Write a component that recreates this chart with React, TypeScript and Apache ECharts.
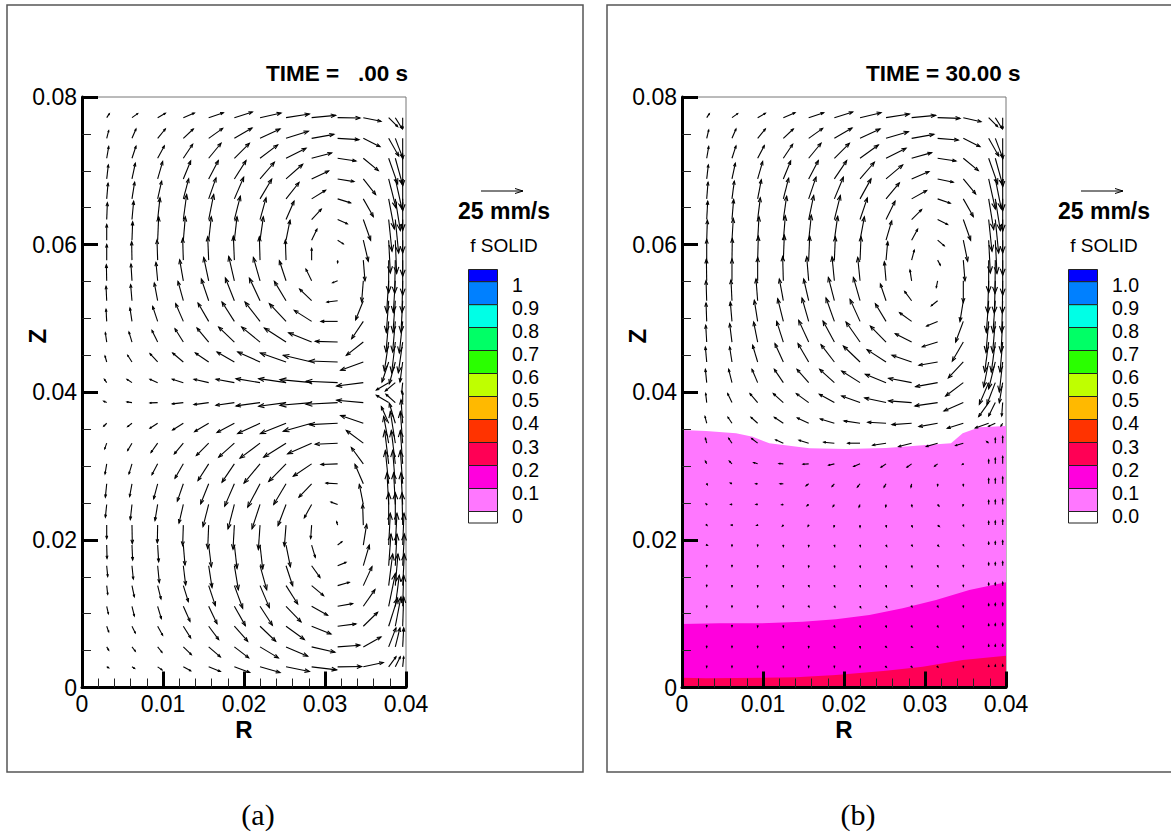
import React, { useEffect, useRef } from "react";
import * as echarts from "echarts";

const FONT = '"Liberation Sans", Arial, sans-serif';

// arrow tails, metres
const columnR = [0.00305, 0.00617, 0.00934, 0.01251, 0.01564, 0.01881, 0.02198, 0.02519, 0.02835, 0.03156, 0.03473, 0.03786, 0.03868, 0.03959];
const rowZ = [0.0772, 0.0744, 0.0717, 0.0689, 0.0662, 0.0634, 0.0606, 0.0579, 0.0551, 0.0524, 0.0496, 0.0468, 0.0441, 0.0413, 0.0386, 0.0358, 0.0331, 0.0303, 0.0276, 0.0248, 0.022, 0.0193, 0.0165, 0.0138, 0.011, 0.0083, 0.0055, 0.0028];

// velocity pairs (u, v) per row, in units of 0.2 mm/s, one row of 14 columns per line
const leftField = [
  [8,12, 17,12, 23,13, 33,14, 44,15, 54,17, 63,14, 70,11, 72,7, 67,-1, 53,-11, 27,-27, 20,-32, 0,-33],
  [6,23, 12,28, 23,28, 30,28, 42,30, 53,31, 60,28, 67,21, 67,12, 64,-4, 50,-25, 30,-53, 22,-58, 0,-62],
  [6,35, 12,36, 20,37, 28,42, 37,45, 45,45, 53,40, 60,30, 60,16, 55,-8, 45,-37, 27,-77, 22,-80, 0,-82],
  [5,42, 10,47, 15,52, 22,54, 29,55, 35,55, 43,50, 50,44, 51,24, 49,-8, 37,-47, 22,-87, 20,-90, 0,-95],
  [4,47, 8,50, 12,53, 16,60, 22,63, 28,65, 35,59, 39,49, 42,26, 39,-12, 30,-53, 17,-90, 15,-95, 0,-95],
  [2,50, 5,55, 7,65, 10,75, 15,75, 18,70, 18,65, 24,55, 29,31, 29,-13, 22,-62, 10,-95, 10,-100, 0,-100],
  [0,47, 2,55, 3,70, 6,70, 8,70, 8,70, 10,70, 12,60, 16,33, 17,-11, 15,-63, 5,-98, 4,-100, 0,-108],
  [0,47, -1,55, -2,60, -2,65, -3,70, -3,72, -2,70, -2,60, 0,35, 0,-8, 5,-62, 0,-98, -2,-100, 0,-105],
  [-1,48, -3,50, -5,55, -11,63, -15,70, -17,73, -20,70, -20,60, -17,35, -15,-6, -5,-63, -6,-95, -6,-95, -2,-95],
  [-2,43, -4,48, -10,53, -16,58, -22,65, -27,68, -32,68, -35,58, -36,35, -32,-4, -23,-57, -7,-95, -7,-95, -5,-95],
  [-2,36, -6,40, -15,45, -23,53, -32,55, -37,58, -45,58, -50,53, -52,33, -50,0, -35,-52, -8,-92, -8,-92, -10,-95],
  [-4,28, -9,30, -17,35, -25,40, -35,42, -47,45, -55,45, -65,42, -69,28, -67,2, -51,-40, -13,-87, -11,-92, -13,-92],
  [-5,18, -13,20, -23,25, -32,27, -40,27, -52,30, -67,30, -77,27, -85,20, -85,3, -68,-25, -20,-60, -18,-65, -8,-60],
  [-7,10, -15,10, -23,10, -33,10, -44,10, -55,10, -72,12, -82,12, -95,9, -95,4, -80,-10, -37,-22, -30,-25, -3,-30],
  [-9,4, -15,2, -23,-1, -33,-4, -44,-6, -55,-8, -72,-10, -82,-11, -95,-8, -95,-5, -80,7, -37,22, -28,25, 0,30],
  [-9,-9, -13,-10, -23,-15, -32,-20, -42,-25, -52,-28, -67,-31, -77,-31, -85,-24, -85,-4, -68,23, -22,50, -18,60, -5,70],
  [-6,-17, -13,-22, -20,-28, -27,-32, -37,-37, -47,-42, -60,-45, -67,-42, -72,-32, -67,-3, -51,38, -15,80, -15,95, -7,95],
  [-5,-30, -9,-30, -17,-32, -25,-43, -32,-50, -37,-55, -48,-58, -52,-53, -55,-37, -50,-2, -36,49, -12,100, -12,100, -7,100],
  [-4,-40, -7,-38, -12,-45, -18,-52, -24,-60, -29,-67, -37,-70, -37,-62, -38,-40, -35,2, -25,58, -10,100, -8,100, -7,100],
  [-4,-38, -5,-45, -8,-48, -13,-56, -17,-66, -19,-73, -24,-73, -24,-63, -22,-40, -20,7, -12,60, -5,95, -5,95, -5,95],
  [0,-40, 1,-55, -1,-53, -2,-61, -3,-70, -4,-72, -5,-73, -5,-63, -3,-40, -3,10, -2,62, 0,97, 0,97, -2,97],
  [1,-40, 2,-45, 3,-50, 5,-60, 8,-65, 8,-70, 8,-72, 13,-65, 11,-37, 13,10, 10,62, 5,95, 5,95, 4,95],
  [3,-32, 4,-40, 5,-50, 7,-58, 10,-65, 12,-72, 20,-72, 20,-60, 25,-35, 25,10, 18,62, 7,95, 5,95, 5,95],
  [3,-26, 7,-33, 10,-40, 15,-48, 20,-60, 25,-68, 28,-66, 35,-55, 36,-30, 35,10, 26,57, 12,95, 8,95, 5,95],
  [5,-22, 7,-29, 11,-37, 20,-45, 25,-52, 33,-58, 37,-57, 45,-47, 48,-27, 45,8, 35,50, 20,98, 12,93, 3,93],
  [6,-17, 10,-20, 15,-27, 22,-35, 30,-40, 40,-45, 47,-45, 55,-40, 58,-23, 55,7, 43,42, 27,85, 17,88, 3,88],
  [6,-10, 10,-13, 13,-16, 24,-23, 35,-30, 43,-33, 55,-33, 65,-28, 70,-16, 67,5, 53,30, 22,57, 14,57, 3,57],
  [6,-3, 8,-5, 13,-9, 22,-12, 35,-14, 46,-17, 60,-17, 70,-14, 75,-9, 72,1, 60,13, 22,30, 15,30, 3,30],
];

const rightField = [
  [8,12, 17,12, 23,13, 35,15, 45,15, 55,17, 63,15, 70,11, 72,7, 67,-2, 53,-12, 27,-27, 20,-32, 0,-33],
  [6,25, 12,28, 23,28, 30,28, 42,30, 53,31, 60,28, 67,20, 67,12, 62,-5, 50,-25, 30,-53, 22,-58, 0,-62],
  [6,35, 12,37, 20,38, 28,42, 37,45, 45,45, 55,40, 60,30, 60,17, 55,-8, 45,-37, 27,-77, 22,-80, 0,-85],
  [5,42, 10,47, 15,52, 22,54, 29,55, 37,55, 43,50, 50,42, 52,22, 47,-10, 37,-45, 20,-90, 18,-90, 0,-95],
  [4,50, 7,53, 11,57, 16,62, 22,65, 27,65, 33,60, 40,48, 45,25, 38,-13, 30,-53, 15,-92, 15,-95, 0,-97],
  [3,55, 5,60, 8,65, 10,70, 15,72, 18,72, 22,65, 27,55, 30,30, 30,-15, 22,-62, 10,-95, 10,-100, 0,-100],
  [2,60, 4,65, 4,70, 6,73, 8,75, 10,72, 13,70, 17,58, 18,33, 20,-17, 13,-63, 5,-98, 5,-100, 0,-105],
  [0,62, 1,65, 2,72, 3,75, 3,72, 3,70, 3,70, 5,55, 8,30, 8,-15, 5,-62, 0,-98, -1,-100, 0,-105],
  [-1,65, 0,65, 0,70, -2,73, -6,72, -7,72, -7,70, -5,57, -5,32, -4,-20, 0,-65, -3,-97, -3,-97, -1,-97],
  [-2,60, -3,62, -5,65, -12,65, -15,65, -18,70, -20,70, -17,50, -21,28, -19,-15, -10,-62, -7,-95, -7,-95, -3,-95],
  [-2,55, -5,58, -10,63, -17,68, -20,70, -25,70, -30,66, -32,53, -36,26, -33,-14, -23,-62, -8,-93, -8,-93, -5,-93],
  [-3,50, -7,55, -12,60, -20,62, -30,65, -34,63, -42,60, -47,48, -49,25, -46,-14, -33,-57, -12,-90, -12,-90, -8,-90],
  [-4,45, -7,45, -15,50, -25,55, -32,55, -40,52, -50,48, -57,37, -59,20, -56,-10, -45,-48, -15,-75, -20,-80, -10,-90],
  [-4,40, -10,40, -17,40, -27,40, -35,40, -44,40, -55,35, -62,25, -69,13, -66,-12, -53,-40, -28,-65, -25,-65, -10,-60],
  [-3,27, -13,27, -23,27, -30,27, -37,27, -45,25, -55,20, -64,14, -69,5, -68,-10, -58,-25, -30,-42, -20,-40, -3,-40],
  [-5,20, -12,18, -20,18, -27,18, -34,16, -42,13, -48,7, -55,3, -59,-4, -56,-10, -48,-15, -40,-14, -20,-9, -5,-8],
  [-4,15, -10,15, -18,14, -23,10, -29,9, -32,3, -37,0, -40,-6, -39,-10, -34,-10, -23,-7, -6,5, 0,15, 0,20],
  [-4,8, -8,8, -12,4, -13,1, -17,-1, -17,-4, -19,-8, -15,-10, -14,-10, -9,-7, -3,-2, 0,12, 0,17, 0,22],
  [2,-3, -5,2, -6,0, -10,0, -8,-6, -7,-8, -8,-10, -6,-10, -2,-10, 0,-6, 0,-6, 0,15, 0,15, 0,20],
  [-2,2, -4,0, -5,0, -5,-1, -5,-4, -4,-6, -3,-8, -1,-7, 1,-6, 4,-5, -1,-4, 0,12, 0,13, 0,16],
  [1,-1, -2,0, -3,-1, -3,-3, -2,-3, -1,-5, 0,-6, 1,-5, 2,-5, 5,-4, 1,-3, 0,11, 0,12, 0,15],
  [2,-1, 0,-3, 0,-3, 0,-4, 0,-4, 1,-4, 1,-4, 2,-4, 2,-3, 3,-3, 1,-2, 0,8, 0,10, 0,13],
  [0,-2, 0,-2, 0,-3, 0,-3, 0,-4, 1,-4, 1,-4, 1,-4, 1,-4, 1,-3, 0,-2, 0,8, 0,9, 0,12],
  [0,-2, 0,-3, 0,-3, 0,-3, 1,-3, 1,-3, 1,-3, 1,-3, 1,-3, 1,-3, 0,-2, 0,7, 0,8, 0,10],
  [0,-2, 0,-2, 0,-2, 0,-2, 1,-2, 2,-3, 2,-4, 2,-3, 1,-2, 1,-2, 0,-2, 0,7, 0,8, 0,10],
  [0,-1, 0,-1, 0,-2, 0,-2, 1,-2, 1,-2, 1,-2, 1,-2, 1,-2, 1,-2, 0,-2, 0,6, 0,7, 0,9],
  [0,-1, 0,-1, 0,-1, 0,-2, 0,-2, 1,-2, 1,-2, 1,-1, 2,-1, 1,-1, 0,-1, 0,6, 0,6, 0,7],
  [0,-1, 0,-1, 0,-1, 0,-1, 0,-1, 0,-1, 0,-1, 1,-1, 1,-1, 1,-1, 0,-1, 0,4, 0,5, 0,6],
];

// contour boundaries on panel (b): [R, Z]
const solid01 = [[0,0.03489],[0.00296,0.03475],[0.00667,0.03444],[0.00872,0.03398],[0.01078,0.03308],[0.01572,0.0324],[0.02025,0.03231],[0.02518,0.03245],[0.02971,0.03281],[0.03321,0.03308],[0.03465,0.03444],[0.03671,0.03525],[0.04,0.03543]];
const solid02 = [[0,0.0086],[0.00461,0.00869],[0.00955,0.00869],[0.0149,0.00892],[0.01901,0.00924],[0.02313,0.00982],[0.02724,0.01073],[0.03136,0.01185],[0.03547,0.01321],[0.04,0.01425]];
const solid03 = [[0,0.00133],[0.00296,0.00124],[0.01407,0.00138],[0.01901,0.00169],[0.02518,0.00228],[0.02971,0.00282],[0.03465,0.00373],[0.04,0.00431]];

const legendColors = ["#0000ff", "#0080ff", "#00ffe6", "#00ff66", "#2aff00", "#bfff00", "#ffb900", "#ff3300", "#ff0055", "#ff00dd", "#ff77ff", "#ffffff"];
const legendBreaks = [269.5, 281.7, 304.7, 327.5, 350.5, 373.5, 396.5, 419.5, 442.5, 465.5, 488.5, 511.5, 523];
const leftLegendLabels = ["1", "0.9", "0.8", "0.7", "0.6", "0.5", "0.4", "0.3", "0.2", "0.1", "0"];
const rightLegendLabels = ["1.0", "0.9", "0.8", "0.7", "0.6", "0.5", "0.4", "0.3", "0.2", "0.1", "0.0"];

const leftTitle = "TIME =   .00 s";
const rightTitle = "TIME = 30.00 s";
const scaleLabel = "25 mm/s";
const legendTitle = "f SOLID";

function fieldData(field: number[][]) {
  const out: number[][] = [];
  field.forEach((row, i) => {
    columnR.forEach((r, j) => out.push([r, rowZ[i], row[2 * j], row[2 * j + 1]]));
  });
  return out;
}

function renderArrow(_: any, api: any) {
  const p = api.coord([api.value(0), api.value(1)]);
  const dx = api.value(2) / 3;
  const dy = -api.value(3) / 3;
  const len = Math.hypot(dx, dy) || 1;
  const tip = [p[0] + dx, p[1] + dy];
  const ux = dx / len;
  const uy = dy / len;
  const h = Math.max(1.5, Math.min(6.5, len * 0.2));
  const w = h * 0.38;
  const style = { stroke: "#000", lineWidth: 1.1, fill: "none" };
  return {
    type: "group",
    children: [
      { type: "line", shape: { x1: p[0], y1: p[1], x2: tip[0], y2: tip[1] }, style },
      {
        type: "polyline",
        shape: {
          points: [
            [tip[0] - ux * h - uy * w, tip[1] - uy * h + ux * w],
            tip,
            [tip[0] - ux * h + uy * w, tip[1] - uy * h - ux * w],
          ],
        },
        style,
      },
    ],
  };
}

function panelGraphics(dx: number, title: string, labels: string[], frameWidth: number) {
  const els: any[] = [
    { type: "rect", z: 0, shape: { x: 7 + (dx ? 600 : 0), y: 5, width: frameWidth, height: 767 }, style: { fill: "none", stroke: "#555", lineWidth: 1.5 } },
    { type: "text", x: 266 + dx, y: 73, style: { text: title, font: `bold 22.5px ${FONT}`, fill: "#000", textAlign: "left", textVerticalAlign: "middle" } },
    { type: "line", shape: { x1: 481 + dx, y1: 191, x2: 523 + dx, y2: 191 }, style: { stroke: "#000", lineWidth: 1 } },
    { type: "polyline", shape: { points: [[515 + dx, 188.5], [523 + dx, 191], [515 + dx, 193.5]] }, style: { stroke: "#000", lineWidth: 1, fill: "none" } },
    { type: "text", x: 504 + dx, y: 211, style: { text: scaleLabel, font: `bold 23px ${FONT}`, fill: "#000", textAlign: "center", textVerticalAlign: "middle" } },
    { type: "text", x: 504 + dx, y: 245, style: { text: legendTitle, font: `19px ${FONT}`, fill: "#000", textAlign: "center", textVerticalAlign: "middle" } },
  ];
  legendColors.forEach((c, i) => {
    els.push({
      type: "rect",
      shape: { x: 468.5 + dx, y: legendBreaks[i], width: 29, height: legendBreaks[i + 1] - legendBreaks[i] },
      style: { fill: c, stroke: "#222", lineWidth: 1 },
    });
  });
  labels.forEach((t, i) => {
    els.push({
      type: "text",
      x: 512 + dx,
      y: 284.5 + i * 23.15,
      style: { text: t, font: `19.5px ${FONT}`, fill: "#000", textAlign: "left", textVerticalAlign: "middle" },
    });
  });
  return els;
}

export default function App() {
  const ref = useRef<HTMLDivElement>(null);
  useEffect(() => {
    const chart = echarts.init(ref.current!, null, { renderer: "svg" });
    const grids = [82, 682];
    const tickLabel = (v: number) => (v === 0 ? "0" : v.toFixed(2));
    const axisBase = {
      type: "value",
      min: 0,
      z: 5,
      splitLine: { show: false },
      axisLine: { show: true, onZero: false, lineStyle: { color: "#000", width: 3 } },
      axisTick: { show: true, inside: true, length: 16, lineStyle: { color: "#000", width: 3 } },
      nameLocation: "middle",
      nameMoveOverlap: false,
    };
    const nameStyle = { fontFamily: FONT, fontWeight: "bold", fontSize: 24, color: "#000" };
    const labelBase = { fontFamily: FONT, fontSize: 23, color: "#000", formatter: tickLabel, showMinLabel: true, showMaxLabel: true };
    chart.setOption({
      animation: false,
      grid: grids.map((left) => ({
        left,
        top: 97,
        width: 324,
        height: 590.5,
        show: true,
        borderColor: "#777",
        borderWidth: 1,
        backgroundColor: "transparent",
      })),
      xAxis: grids.map((_, i) => ({
        ...axisBase,
        gridIndex: i,
        max: 0.04,
        interval: 0.01,
        name: "R",
        nameGap: 30,
        nameTextStyle: nameStyle,
        minorTick: { show: true, splitNumber: 5, length: 9, lineStyle: { color: "#222", width: 1 } },
        axisLabel: { ...labelBase, margin: 5 },
      })),
      yAxis: grids.map((_, i) => ({
        ...axisBase,
        gridIndex: i,
        max: 0.08,
        interval: 0.02,
        name: "Z",
        nameGap: 33,
        nameRotate: 90,
        nameTextStyle: { ...nameStyle, padding: [0, 0, 0, 112] },
        minorTick: { show: true, splitNumber: 4, length: 9, lineStyle: { color: "#222", width: 1 } },
        axisLabel: { ...labelBase, margin: 5 },
      })),
      series: [
        ...[
          { data: solid01, color: "#ff77ff" },
          { data: solid02, color: "#ff00dd" },
          { data: solid03, color: "#ff0055" },
        ].map((s) => ({
          type: "line",
          xAxisIndex: 1,
          yAxisIndex: 1,
          data: s.data,
          showSymbol: false,
          symbol: "none",
          silent: true,
          z: 2,
          lineStyle: { width: 0 },
          itemStyle: { color: s.color },
          areaStyle: { color: s.color, opacity: 1 },
        })),
        {
          type: "custom",
          xAxisIndex: 0,
          yAxisIndex: 0,
          data: fieldData(leftField),
          renderItem: renderArrow,
          encode: { x: 0, y: 1 },
          clip: false,
          silent: true,
          z: 6,
        },
        {
          type: "custom",
          xAxisIndex: 1,
          yAxisIndex: 1,
          data: fieldData(rightField),
          renderItem: renderArrow,
          encode: { x: 0, y: 1 },
          clip: false,
          silent: true,
          z: 6,
        },
      ],
      graphic: {
        elements: [
          ...panelGraphics(0, leftTitle, leftLegendLabels, 576),
          ...panelGraphics(600, rightTitle, rightLegendLabels, 600),
          { type: "text", x: 258, y: 814, style: { text: "(a)", font: '30px "Liberation Serif", serif', fill: "#000", textAlign: "center", textVerticalAlign: "middle" } },
          { type: "text", x: 858, y: 814, style: { text: "(b)", font: '30px "Liberation Serif", serif', fill: "#000", textAlign: "center", textVerticalAlign: "middle" } },
        ],
      },
    });
    return () => chart.dispose();
  }, []);
  return <div ref={ref} style={{ position: "absolute", left: 0, top: 0, width: 1171, height: 834, background: "#fff" }} />;
}
